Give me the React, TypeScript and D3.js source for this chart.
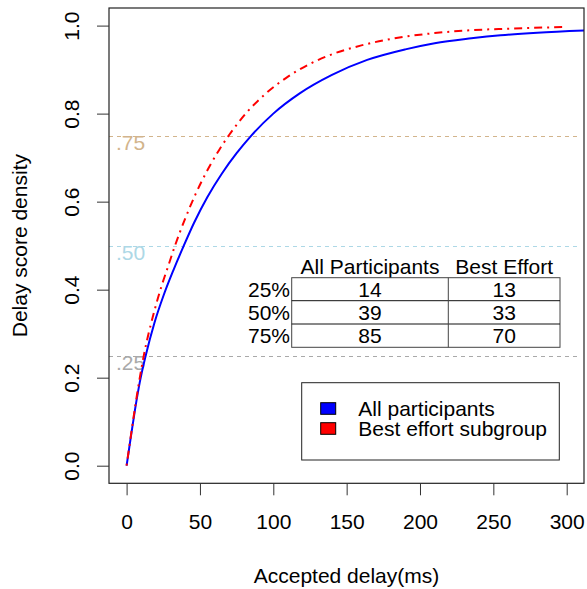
import { useEffect, useRef } from "react";
import * as d3 from "d3";

// curves (cumulative share of participants vs delay)
const allDelays = [0, 3, 6, 9, 13, 19, 25, 32, 39, 46, 55, 65, 75, 85, 100, 118, 140, 164, 190, 210, 235, 255, 280, 312];
const allShare = [0, 0.068, 0.133, 0.19, 0.25, 0.325, 0.385, 0.445, 0.5, 0.552, 0.61, 0.664, 0.71, 0.75, 0.8, 0.846, 0.888, 0.922, 0.946, 0.96, 0.971, 0.978, 0.984, 0.989];
const bestDelays = [0, 3, 6, 9, 12, 18, 24, 28, 33, 40, 47, 56, 63, 70, 82, 95, 110, 125, 141, 160, 186, 210, 232, 260, 300];
const bestShare = [0, 0.07, 0.138, 0.2, 0.255, 0.34, 0.41, 0.45, 0.5, 0.562, 0.617, 0.677, 0.717, 0.752, 0.803, 0.846, 0.884, 0.913, 0.936, 0.955, 0.973, 0.983, 0.989, 0.993, 0.997];

const xTicks = [0, 50, 100, 150, 200, 250, 300];
const yTicks = [0, 0.2, 0.4, 0.6, 0.8, 1.0];

const refLevels = [0.25, 0.5, 0.75];
const refLabels = [".25", ".50", ".75"];
const refColors = ["#A9A9A9", "#ADD8E6", "#D2B48C"];

const tableCols = ["All Participants", "Best Effort"];
const tableRows = ["25%", "50%", "75%"];
const allQuantiles = [14, 39, 85];
const bestQuantiles = [13, 33, 70];

const legendLabels = ["All participants", "Best effort subgroup"];
const legendColors = ["#0000FF", "#FF0000"];

const W = 587;
const H = 589;
const left = 109;
const right = 584;
const top = 8;
const bottom = 483.3;
const font = "'Liberation Sans', Arial, Helvetica, sans-serif";
const fs = 21;

export default function App() {
  const xAxisRef = useRef<SVGGElement>(null);
  const yAxisRef = useRef<SVGGElement>(null);

  const x = d3.scaleLinear().domain([-12, 311.8]).range([left, right]);
  const y = d3.scaleLinear().domain([-0.04, 1.04]).range([bottom, top]);

  useEffect(() => {
    const xa = d3.select(xAxisRef.current!);
    xa.selectAll("*").remove();
    xa.call(d3.axisBottom(x).tickValues(xTicks).tickSize(12).tickPadding(18.8).tickFormat(d3.format("d")));
    xa.select(".domain").remove();
    xa.selectAll("line").attr("stroke", "#333").attr("stroke-width", 1);
    xa.selectAll("text").attr("font-size", fs).attr("font-family", font).attr("fill", "#000");

    const ya = d3.select(yAxisRef.current!);
    ya.selectAll("*").remove();
    ya.call(d3.axisLeft(y).tickValues(yTicks).tickSize(12).tickFormat(d3.format(".1f")));
    ya.select(".domain").remove();
    ya.selectAll("line").attr("stroke", "#333").attr("stroke-width", 1);
    ya.selectAll("text")
      .attr("font-size", fs)
      .attr("font-family", font)
      .attr("fill", "#000")
      .attr("transform", "rotate(-90)")
      .attr("x", 0)
      .attr("y", -30)
      .attr("dy", 0)
      .attr("text-anchor", "middle");
  }, []);

  const line = d3
    .line<[number, number]>()
    .x((d) => x(d[0]))
    .y((d) => y(d[1]))
    .curve(d3.curveMonotoneX);

  const allPath = line(allDelays.map((d, i) => [d, allShare[i]] as [number, number])) || "";
  const bestPath = line(bestDelays.map((d, i) => [d, bestShare[i]] as [number, number])) || "";

  // table layout (pixels)
  const tLeft = 291.7;
  const tMid = 448.3;
  const tRight = 560;
  const rowLines = [277.7, 300.7, 324, 347.3];
  const colCenters = [(tLeft + tMid) / 2, (tMid + tRight) / 2];

  // legend layout
  const lgX = 301.7;
  const lgY = 382.7;
  const lgW = 257.6;
  const lgH = 77.3;

  return (
    <svg
      width={W}
      height={H}
      style={{ position: "absolute", left: 0, top: 0, background: "#fff" }}
      fontFamily={font}
    >
      <defs>
        <clipPath id="plotClip">
          <rect x={left} y={top} width={right - left} height={bottom - top} />
        </clipPath>
      </defs>

      {/* reference quartile lines */}
      {refLevels.map((lv, i) => {
        const ly = Math.round(y(lv)) + 0.5;
        return (
          <g key={lv}>
            <line
              x1={left}
              x2={right - 3}
              y1={ly}
              y2={ly}
              stroke={refColors[i]}
              strokeWidth={1}
              strokeDasharray="4,4"
            />
            <text x={116} y={y(lv) + 14.5} fontSize={fs} fill={refColors[i]}>
              {refLabels[i]}
            </text>
          </g>
        );
      })}

      {/* curves */}
      <g clipPath="url(#plotClip)">
        <path d={allPath} fill="none" stroke="#0000FF" strokeWidth={2} />
        <path d={bestPath} fill="none" stroke="#FF0000" strokeWidth={2} strokeDasharray="2,5,8,5" />
      </g>

      {/* quantile table */}
      {tableCols.map((c, i) => (
        <text key={c} x={colCenters[i]} y={274} fontSize={fs} textAnchor="middle">
          {c}
        </text>
      ))}
      <rect
        x={tLeft}
        y={rowLines[0]}
        width={tRight - tLeft}
        height={rowLines[3] - rowLines[0]}
        fill="none"
        stroke="#444"
        strokeWidth={1}
      />
      {rowLines.slice(1, 3).map((ry) => (
        <line key={ry} x1={tLeft} x2={tRight} y1={ry} y2={ry} stroke="#111" strokeWidth={1} />
      ))}
      <line x1={tMid} x2={tMid} y1={rowLines[0]} y2={rowLines[3]} stroke="#444" strokeWidth={1} />
      {tableRows.map((r, i) => {
        const cy = (rowLines[i] + rowLines[i + 1]) / 2 + 7.5;
        return (
          <g key={r}>
            <text x={290} y={cy} fontSize={fs} textAnchor="end">
              {r}
            </text>
            <text x={colCenters[0]} y={cy} fontSize={fs} textAnchor="middle">
              {allQuantiles[i]}
            </text>
            <text x={colCenters[1]} y={cy} fontSize={fs} textAnchor="middle">
              {bestQuantiles[i]}
            </text>
          </g>
        );
      })}

      {/* legend */}
      <rect x={lgX} y={lgY} width={lgW} height={lgH} fill="#fff" stroke="#222" strokeWidth={1} />
      {legendLabels.map((lab, i) => (
        <g key={lab}>
          <rect
            x={320.7}
            y={402.7 + i * 20}
            width={15}
            height={11.6}
            fill={legendColors[i]}
            stroke="#000"
            strokeWidth={1}
          />
          <text x={358.3} y={415.5 + i * 20} fontSize={fs}>
            {lab}
          </text>
        </g>
      ))}

      {/* plot box */}
      <rect x={left} y={top} width={right - left} height={bottom - top} fill="none" stroke="#222" strokeWidth={1.2} />

      <g ref={xAxisRef} transform={`translate(0,${bottom})`} />
      <g ref={yAxisRef} transform={`translate(${left},0)`} />

      {/* axis titles */}
      <text x={(left + right) / 2} y={582.5} fontSize={fs} textAnchor="middle">
        Accepted delay(ms)
      </text>
      <text transform={`translate(26.5,${(top + bottom) / 2}) rotate(-90)`} fontSize={fs} textAnchor="middle">
        Delay score density
      </text>
    </svg>
  );
}
